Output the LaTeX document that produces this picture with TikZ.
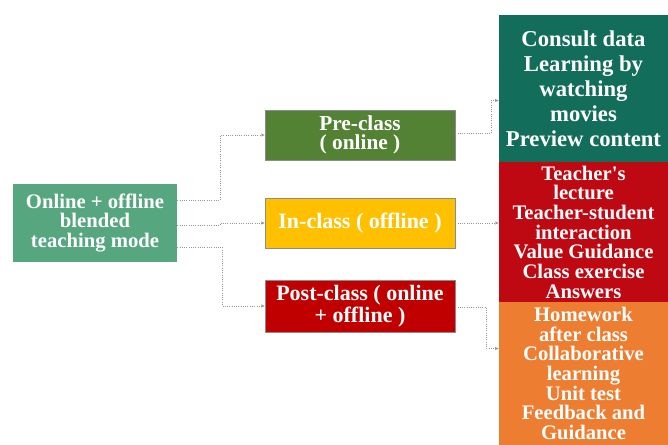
\documentclass[tikz,border=0pt]{standalone}
\usepackage{fontspec}
\setmainfont{Liberation Serif}[Ligatures=TeXOff]
\usepackage{tikz}
\usetikzlibrary{positioning,arrows.meta,calc}
\usepackage{xcolor}
\definecolor{modegreen}{RGB}{86,166,128}
\definecolor{pregreen}{RGB}{84,130,53}
\definecolor{inamber}{RGB}{255,192,0}
\definecolor{postred}{RGB}{192,0,0}
\definecolor{itemteal}{RGB}{18,110,90}
\definecolor{itemred}{RGB}{190,8,18}
\definecolor{itemorange}{RGB}{237,125,49}
\definecolor{linkgray}{RGB}{150,150,150}

\begin{document}
\begin{tikzpicture}[x=0.75pt,y=0.75pt,
  box/.style={rectangle,text=white,align=center,inner sep=0pt,
              font=\bfseries\fontsize{16}{14.5}\selectfont},
  phase/.style={box,minimum width=142.5pt,draw=black!45,line width=0.4pt},
  items/.style={box,minimum width=126.75pt,font=\bfseries\fontsize{15.5}{14.75}\selectfont},
  link/.style={draw=linkgray,densely dotted,line width=0.7pt,-{Stealth[length=3pt,width=2.5pt]}}]
\useasboundingbox (0,0) rectangle (668,445);

% blended mode
\node[box,fill=modegreen,minimum width=123pt,minimum height=58.5pt,
      font=\bfseries\fontsize{15.5}{14.75}\selectfont] (mode) at (95,222)
  {Online + offline\\blended\\teaching mode};

% the three phases
\node[phase,fill=pregreen,minimum height=37.5pt] (pre) at (360,310)
  {Pre-class\\( online )};
\node[phase,fill=inamber,minimum height=37.5pt,
      font=\bfseries\fontsize{16.5}{16.5}\selectfont] (inclass) at (360,222)
  {In-class ( offline )};
\node[phase,fill=postred,minimum height=39pt,
      font=\bfseries\fontsize{16.5}{16.5}\selectfont] (post) at (360,139)
  {Post-class ( online\\+ offline )};

% activities
\node[items,fill=itemteal,minimum height=110.25pt,
      font=\bfseries\fontsize{17}{18.75}\selectfont] (preitems) at (583.5,356.5)
  {Consult data\\Learning by\\watching\\movies\\Preview content};
\node[items,fill=itemred,minimum height=105pt] (initems) at (583.5,213)
  {Teacher's\\lecture\\Teacher-student\\interaction\\Value Guidance\\Class exercise\\Answers};
\node[items,fill=itemorange,minimum height=107.25pt] (postitems) at (583.5,71.5)
  {Homework\\after class\\Collaborative\\learning\\Unit test\\Feedback and\\Guidance};

% connectors
\draw[link] ($(mode.east)+(0,23)$) -- ++(43,0) |- (pre.west);
\draw[link] ($(mode.east)+(0,-2)$) -- ++(43,0) |- (inclass.west);
\draw[link] ($(mode.east)+(0,-24)$) -- ++(45,0) |- (post.west);
\draw[link] ($(pre.east)+(0,2)$) -- ++(36,0) |- ($(preitems.west)+(0,-12)$);
\draw[link] (inclass.east) -- (inclass.east -| initems.west);
\draw[link] ($(post.east)+(0,-1)$) -- ++(31,0) |- ($(postitems.west)+(0,25)$);
\end{tikzpicture}
\end{document}
